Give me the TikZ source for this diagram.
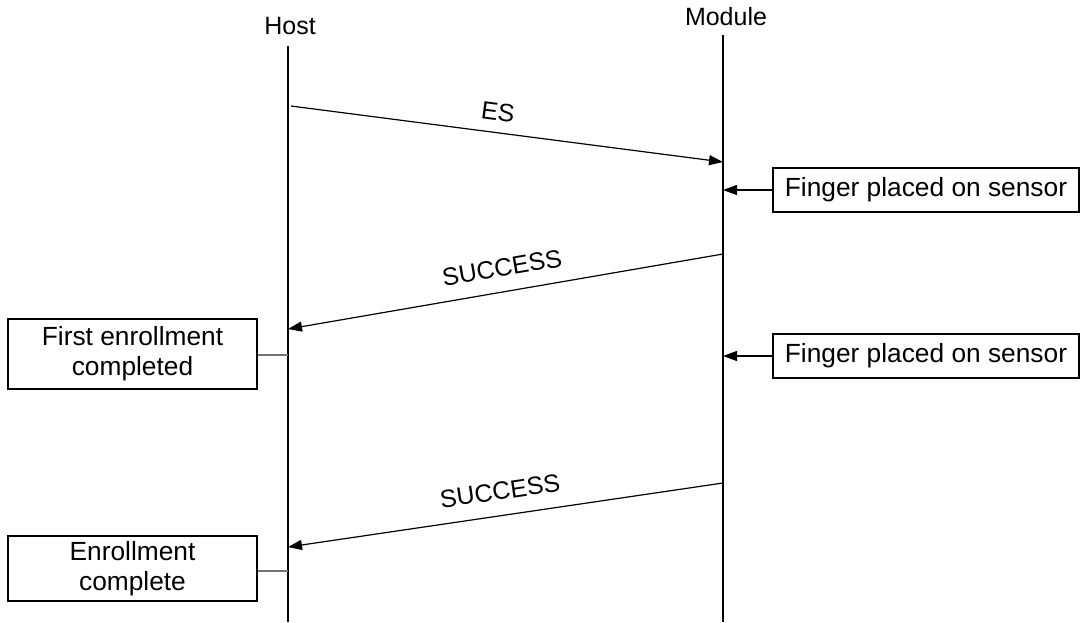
\documentclass[tikz,border=0pt]{standalone}
\usepackage{fontspec}
\setmainfont{Liberation Sans}
\usetikzlibrary{arrows.meta}
\begin{document}
\begin{tikzpicture}[x=1pt,y=-1pt,
  txt/.style={font=\fontsize{25}{30}\selectfont, inner sep=0pt},
  life/.style={line width=1.2pt},
  msg/.style={line width=1.2pt, -{Triangle[length=14pt,width=10pt]}},
  notebox/.style={draw, line width=1.2pt, font=\fontsize{26.3}{30}\selectfont, align=center, inner sep=0pt},
  tie/.style={line width=1.2pt, draw=black!55}]
\useasboundingbox (0,0) rectangle (1080,622);
% lifelines
\node[txt] (host) at (290,26) {Host};
\node[txt] (module) at (726,17) {Module};
\coordinate (ht) at (288,46);
\coordinate (hb) at (288,622);
\coordinate (mt) at (723,35);
\coordinate (mb) at (723,622);
\draw[life] (ht) -- (hb);
\draw[life] (mt) -- (mb);
% ES
\coordinate (es1) at (291,106);
\coordinate (es2) at (723,162);
\draw[msg] (es1) -- (es2);
\node[txt, rotate=-7.4] (eslab) at (498,112) {ES};
% Finger 1
\node[notebox, minimum width=306pt, minimum height=44pt] (f1) at (926,190) {Finger placed on sensor};
\coordinate (f1m) at (723,190);
\draw[msg] (f1.west) -- (f1m);
% SUCCESS 1
\coordinate (s1a) at (723,254);
\coordinate (s1b) at (288,329);
\draw[msg] (s1a) -- (s1b);
\node[txt, rotate=9.85] (s1lab) at (502,268) {SUCCESS};
% First enrollment box
\node[notebox, minimum width=249pt, minimum height=70pt] (e1) at (132.5,354) {First enrollment\\completed};
\coordinate (e1h) at (288,355);
\draw[tie] (e1.east |- e1h) -- (e1h);
% Finger 2
\node[notebox, minimum width=306pt, minimum height=44pt] (f2) at (926,356) {Finger placed on sensor};
\coordinate (f2m) at (723,356);
\draw[msg] (f2.west) -- (f2m);
% SUCCESS 2
\coordinate (s2a) at (723,483);
\coordinate (s2b) at (288,547);
\draw[msg] (s2a) -- (s2b);
\node[txt, rotate=8.4] (s2lab) at (500,491) {SUCCESS};
% Enrollment complete box
\node[notebox, minimum width=249pt, minimum height=65pt] (e2) at (132.5,568.5) {Enrollment\\complete};
\coordinate (e2h) at (288,571);
\draw[tie] (e2.east |- e2h) -- (e2h);
\end{tikzpicture}
\end{document}
